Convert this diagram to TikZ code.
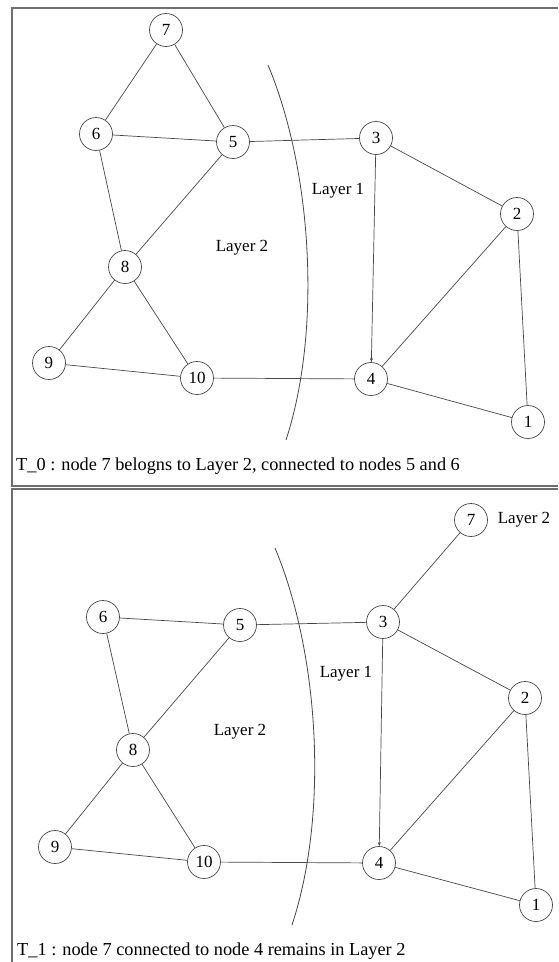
\documentclass[tikz,border=0pt]{standalone}
\usepackage{fontspec}
\setmainfont{Liberation Serif}
\usepackage{xcolor}
\usetikzlibrary{arrows.meta}
\definecolor{edgegray}{RGB}{70,70,70}
\definecolor{framegray}{RGB}{110,110,110}
\tikzset{
  vert/.style={
    circle,
    draw=edgegray,
    line width=0.7pt,
    inner sep=0pt,
    minimum size=33pt
  },
  lbl/.style={inner sep=0pt},
  caption/.style={inner sep=0pt, anchor=west, font=\fontsize{18.3}{21}\selectfont},
  edge/.style={draw=edgegray, line width=0.7pt},
  arrow/.style={edge, -{Stealth[length=4pt,width=3pt]}},
  layerline/.style={draw=edgegray, line width=0.8pt},
  frame/.style={draw=framegray, line width=1.2pt}
}

\begin{document}
\begin{tikzpicture}[
    x=1pt, y=-1pt,
    font=\fontsize{17}{20}\selectfont
]
\useasboundingbox (0,0) rectangle (558,962);

\draw[frame] (558,8) -- (12,8) -- (12,486) -- (558,486);
\draw[frame] (558,489) -- (12,489) -- (12,962);

% T_0
\node[vert] (a7) at (166,30) {7};
\node[vert] (a6) at (96,134) {6};
\node[vert] (a5) at (233,142) {5};
\node[vert] (a3) at (376,138) {3};
\node[vert] (a2) at (517,214) {2};
\node[vert] (a8) at (125,267) {8};
\node[vert] (a9) at (49,363) {9};
\node[vert] (a10) at (197,378) {10};
\node[vert] (a4) at (371,379) {4};
\node[vert] (a1) at (528,422) {1};

\node[lbl] (al2) at (242,248) {Layer 2};
\node[lbl] (al1) at (338,191) {Layer 1};

\draw[layerline] (268,65) .. controls (312,170) and (322,330) .. (286,440);

\draw[edge] (a7) -- (a6);
\draw[edge] (a7) -- (a5);
\draw[edge] (a6) -- (a5);
\draw[edge] (a6) -- (a8);
\draw[edge] (a5) -- (a8);
\draw[edge] (a5) -- (a3);
\draw[arrow] (a3) -- (a4);
\draw[edge] (a3) -- (a2);
\draw[edge] (a2) -- (a4);
\draw[edge] (a2) -- (a1);
\draw[edge] (a4) -- (a1);
\draw[edge] (a10) -- (a4);
\draw[edge] (a8) -- (a10);
\draw[edge] (a8) -- (a9);
\draw[edge] (a9) -- (a10);

\node[caption] (acap) at (16,466) {T\_0 : node 7 belogns to Layer 2, connected to nodes 5 and 6};

% T_1
\node[vert] (b7) at (471,520) {7};
\node[vert] (b6) at (103,617) {6};
\node[vert] (b5) at (240,625) {5};
\node[vert] (b3) at (383,622) {3};
\node[vert] (b2) at (525,698) {2};
\node[vert] (b8) at (133,750) {8};
\node[vert] (b9) at (55,847) {9};
\node[vert] (b10) at (204,862) {10};
\node[vert] (b4) at (379,863) {4};
\node[vert] (b1) at (536,905) {1};

\node[lbl] (bl7) at (524,520) {Layer 2};
\node[lbl] (bl2) at (240,732) {Layer 2};
\node[lbl] (bl1) at (346,674) {Layer 1};

\draw[layerline] (275,548) .. controls (319,653) and (329,813) .. (292,925);

\draw[edge] (b7) -- (b3);
\draw[edge] (b6) -- (b5);
\draw[edge] (b6) -- (b8);
\draw[edge] (b5) -- (b8);
\draw[edge] (b5) -- (b3);
\draw[arrow] (b3) -- (b4);
\draw[edge] (b3) -- (b2);
\draw[edge] (b2) -- (b4);
\draw[edge] (b2) -- (b1);
\draw[edge] (b4) -- (b1);
\draw[edge] (b10) -- (b4);
\draw[edge] (b8) -- (b10);
\draw[edge] (b8) -- (b9);
\draw[edge] (b9) -- (b10);

\node[caption] (bcap) at (17,951) {T\_1 : node 7 connected to node 4 remains in Layer 2};
\end{tikzpicture}
\end{document}
